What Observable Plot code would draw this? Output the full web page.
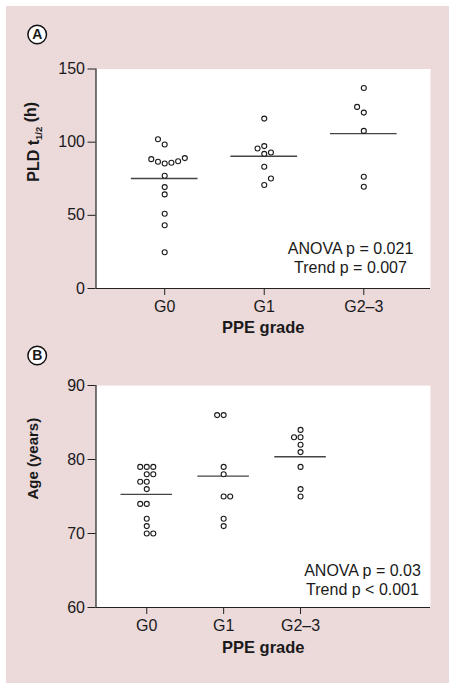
<!DOCTYPE html>
<html>
<head>
<meta charset="utf-8">
<script src="https://cdn.jsdelivr.net/npm/d3@7"></script>
<script src="https://cdn.jsdelivr.net/npm/@observablehq/plot@0.6"></script>
<style>
  html, body { margin: 0; padding: 0; background: #ffffff; }
  #wrap { position: relative; width: 456px; height: 692px; background: #ffffff; overflow: hidden; }
  #pink { position: absolute; left: 6px; top: 6px; width: 443px; height: 677px; background: #ecd9da; }
  .panel { position: absolute; left: 0; }
  .panel svg text { fill: #1a1a1a; }
</style>
</head>
<body>
<div id="wrap">
  <div id="pink"></div>
  <div id="panelA" class="panel" style="top:0px"></div>
  <div id="panelB" class="panel" style="top:346px"></div>
</div>
<script>
// ---- Data ----
const groups = ["G0", "G1", "G2–3"];

// Panel A: PLD t1/2 (h)
const pldG0 = [102.0, 98.4, 88.4, 86.6, 85.4, 85.9, 87.0, 89.1, 77.0, 69.3, 64.3, 51.1, 43.2, 24.8];
const pldG0Col = [-1, 0, -2, -1, 0, 1, 2, 3, 0, 0, 0, 0, 0, 0];
const pldG1 = [116.1, 95.7, 97.3, 92.0, 92.9, 83.2, 75.2, 70.7];
const pldG1Col = [0, -1, 0, 0, 1, 0, 1, 0];
const pldG23 = [137.0, 124.1, 120.2, 107.7, 76.4, 69.5];
const pldG23Col = [0, -1, 0, 0, 0, 0];
const pldTicks = [0, 50, 100, 150];
const pldStats = "ANOVA p = 0.021\nTrend p = 0.007";

// Panel B: Age (years)
const ageG0 = [79, 79, 79, 78, 78, 77, 77, 76, 74, 74, 72, 71, 70, 70];
const ageG0Col = [-1, 0, 1, 0, 1, -1, 0, 0, -1, 0, 0, 0, 0, 1];
const ageG1 = [86, 86, 79, 78, 75, 75, 72, 71];
const ageG1Col = [-1, 0, 0, 0, 0, 1, 0, 0];
const ageG23 = [84, 83, 83, 82, 81, 79, 76, 75];
const ageG23Col = [0, -1, 0, 0, 0, 0, 0, 0];
const ageTicks = [60, 70, 80, 90];
const ageStats = "ANOVA p = 0.03\nTrend p < 0.001";

const xLabel = "PPE grade";

function buildRows(valueArrays, colArrays) {
  const rows = [];
  valueArrays.forEach((vals, gi) => {
    vals.forEach((v, i) => rows.push({gi, v, col: colArrays[gi][i]}));
  });
  return rows;
}

const FONT = "'Liberation Sans', Arial, Helvetica, sans-serif";
const INK = "#222";

function panel(opts) {
  const rows = buildRows(opts.values, opts.cols);
  const means = groups.map((g, gi) => ({gi, m: d3.mean(opts.values[gi])}));
  const [x0] = opts.xDomain;
  const [y0] = opts.yDomain;
  return Plot.plot({
    width: 456,
    height: 346,
    marginLeft: 95.5,
    marginRight: 26,
    marginTop: opts.marginTop,
    marginBottom: opts.marginBottom,
    style: {fontFamily: FONT, fontSize: "16px", background: "transparent", color: INK, overflow: "visible"},
    x: {type: "linear", domain: opts.xDomain, axis: null},
    y: {domain: opts.yDomain, axis: null},
    marks: [
      Plot.frame({fill: "white", stroke: null}),
      Plot.ruleY(means, {y: "m", x1: d => d.gi - 0.335, x2: d => d.gi + 0.335, stroke: "#444", strokeWidth: 1.4}),
      Plot.dot(rows, {x: d => d.gi + d.col * opts.colStep, y: "v", r: 2.5, stroke: "#1a1a1a", strokeWidth: 1.1, fill: "white"}),
      Plot.axisY({ticks: opts.yTicks, tickSize: 8, tickPadding: 3, fontSize: 16, label: null, stroke: INK}),
      Plot.axisX({ticks: [0, 1, 2], tickFormat: i => groups[i], tickSize: 7, tickPadding: 5, fontSize: 16, label: null, stroke: INK}),
      Plot.ruleX([x0], {stroke: INK, strokeWidth: 1.2}),
      Plot.ruleY([y0], {stroke: INK, strokeWidth: 1.2}),
      Plot.text([xLabel], {text: d => d, frameAnchor: "bottom", dy: opts.xLabelDy, fontSize: 16.5, fontWeight: "bold"}),
      Plot.text([opts.yLabel], {text: d => d, frameAnchor: "left", rotate: -90, dx: -62.5, dy: 3, fontSize: opts.yLabelSize, fontWeight: "bold"}),
      Plot.text([opts.stats], {text: d => d, frameAnchor: "bottom-right", textAnchor: "middle", lineAnchor: "middle", lineHeight: 1.15, dx: opts.statsDx, dy: opts.statsDy, fontSize: 16}),
      Plot.dot([opts.tag], {frameAnchor: "top-left", dx: -58.8, dy: opts.tagDy, r: 9.3, stroke: "#111", strokeWidth: 1.5, fill: "white"}),
      Plot.text([opts.tag], {text: d => d, frameAnchor: "top-left", textAnchor: "middle", lineAnchor: "middle", dx: -58.8, dy: opts.tagDy, fontSize: 14, fontWeight: "bold"})
    ]
  });
}

const chartA = panel({
  values: [pldG0, pldG1, pldG23],
  cols: [pldG0Col, pldG1Col, pldG23Col],
  colStep: 0.0674,
  xDomain: [-0.69, 2.67],
  yDomain: [0, 150],
  yTicks: pldTicks,
  marginTop: 68.5,
  marginBottom: 58,
  xLabelDy: 44,
  yLabel: "PLD t1/2 (h)",
  yLabelSize: 16,
  stats: pldStats,
  statsDx: -80,
  statsDy: -31,
  tag: "A",
  tagDy: -34.5
});

const chartB = panel({
  values: [ageG0, ageG1, ageG23],
  cols: [ageG0Col, ageG1Col, ageG23Col],
  colStep: 0.085,
  xDomain: [-0.66, 3.69],
  yDomain: [60, 90],
  yTicks: ageTicks,
  marginTop: 39,
  marginBottom: 85,
  xLabelDy: 45,
  yLabel: "Age (years)",
  yLabelSize: 15,
  stats: ageStats,
  statsDx: -68,
  statsDy: -28,
  tag: "B",
  tagDy: -30
});

document.getElementById("panelA").appendChild(chartA);
document.getElementById("panelB").appendChild(chartB);

// Subscript "1/2" in the PLD label
d3.select(chartA).selectAll("text").each(function() {
  if (this.textContent === "PLD t1/2 (h)") {
    const t = d3.select(this);
    t.text(null);
    t.append("tspan").text("PLD t");
    t.append("tspan").attr("dy", "0.35em").attr("font-size", "9.5px").text("1/2");
    t.append("tspan").attr("dy", "-0.35em").text(" (h)");
  }
});
</script>
</body>
</html>
